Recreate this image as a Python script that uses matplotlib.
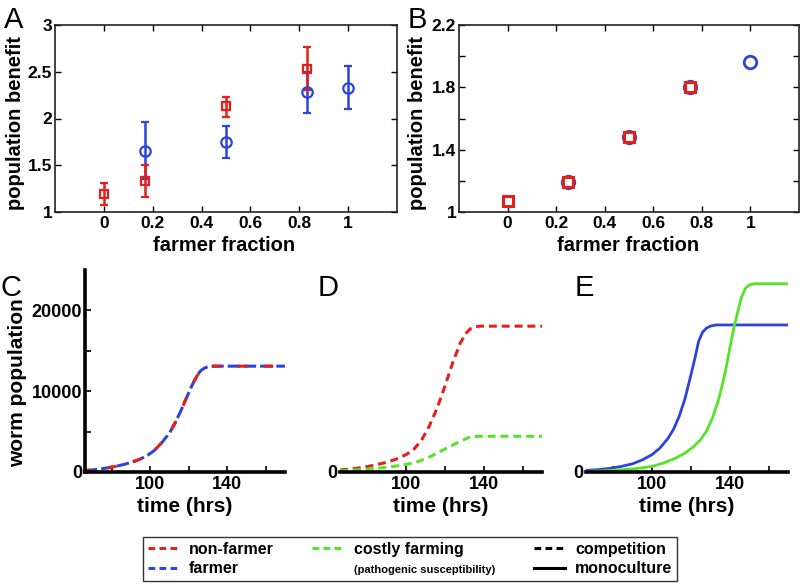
import matplotlib
matplotlib.use("Agg")
import matplotlib.pyplot as plt
from matplotlib.lines import Line2D
import numpy as np

plt.rcParams['font.family'] = ['Liberation Sans', 'DejaVu Sans']
plt.rcParams['font.weight'] = 'bold'

# ---------------- data ----------------
# Panel A (experiment)
a_red_x = [0.0, 1/6, 0.5, 5/6]
a_red_y = [1.19, 1.33, 2.13, 2.53]
a_red_lo = [1.07, 1.16, 2.02, 2.31]
a_red_hi = [1.31, 1.50, 2.23, 2.76]
a_blue_x = [1/6, 0.5, 5/6, 1.0]
a_blue_y = [1.655, 1.75, 2.28, 2.33]
a_blue_lo = [1.35, 1.58, 2.06, 2.10]
a_blue_hi = [1.96, 1.92, 2.50, 2.56]
a_xticks = [0, 0.2, 0.4, 0.6, 0.8, 1]
a_xticklabels = ['0', '0.2', '0.4', '0.6', '0.8', '1']
a_yticks = [1, 1.5, 2, 2.5, 3]
a_yticklabels = ['1', '1.5', '2', '2.5', '3']

# Panel B (model)
b_red_x = [0.0, 0.25, 0.5, 0.75]
b_red_y = [1.07, 1.19, 1.48, 1.80]
b_blue_x = [0.25, 0.5, 0.75, 1.0]
b_blue_y = [1.19, 1.48, 1.80, 1.963]
b_yticks = [1, 1.4, 1.8, 2.2]
b_yticklabels = ['1', '1.4', '1.8', '2.2']
b_yminor = [1.2, 1.6, 2.0]

# Panel C (competition, farmer + non-farmer overlap)
c_t = [66, 70, 74, 78, 82, 86, 90, 94, 98, 102, 106, 110, 113, 116, 119, 122,
       124, 126, 128, 130, 133, 170]
c_v = [180, 260, 370, 520, 700, 920, 1200, 1530, 1980, 2650, 3650, 4850, 6150,
       7650, 9300, 10900, 11800, 12500, 12850, 13030, 13100, 13100]

# Panel D (competition, non-farmer vs costly farming)
d_t = [66, 72, 78, 84, 90, 95, 100, 104, 108, 112, 116, 120, 124, 128, 131,
       133, 135, 138, 170]
d_red = [250, 380, 580, 860, 1200, 1600, 2150, 2800, 3950, 5700, 7900, 10600,
         13500, 16000, 17200, 17700, 17950, 18050, 18050]
d_green = [150, 220, 310, 430, 580, 750, 940, 1130, 1450, 1850, 2350, 2850,
           3320, 3800, 4150, 4330, 4410, 4420, 4420]

# Panel E (monoculture)
e_t_blue = [66, 72, 78, 84, 90, 95, 100, 104, 108, 111, 114, 117, 120, 122,
            124, 126, 128, 130, 133, 170]
e_blue = [200, 290, 440, 680, 1020, 1500, 2150, 2950, 4100, 5250, 6900, 9100,
          12000, 14000, 16200, 17300, 17800, 18050, 18200, 18200]
e_t_green = [66, 75, 85, 92, 100, 106, 112, 117, 121, 125, 128, 131, 134, 136,
             138, 140, 142, 144, 146, 148, 150, 153, 170]
e_green = [80, 150, 290, 420, 700, 1120, 1700, 2350, 3050, 4000, 5050, 6600,
           8750, 10600, 12700, 15300, 17700, 19700, 21600, 22700, 23150, 23300,
           23300]

t_major = [100, 140]
t_minor = [80, 120, 160]
pop_major = [0, 10000, 20000]
pop_minor = [5000, 15000]

RED = '#e3201b'
BLUE = '#2b44dc'
GREEN = '#55e32a'

# ---------------- figure ----------------
W, H = 802, 585
fig = plt.figure(figsize=(W / 100, H / 100), dpi=100)


def px_axes(l, t, r, b):
    return fig.add_axes([l / W, 1 - b / H, (r - l) / W, (b - t) / H])


TICK_FS = 12.5
LABEL_FS = 14.5

# ---- Panel A ----
axA = px_axes(55, 25, 397, 212)
axA.errorbar(a_blue_x, a_blue_y,
             yerr=[np.subtract(a_blue_y, a_blue_lo), np.subtract(a_blue_hi, a_blue_y)],
             fmt='o', color=BLUE, mfc='none', ms=7.5, mew=1.6, elinewidth=1.8,
             capsize=3, capthick=1.6)
axA.errorbar(a_red_x, a_red_y,
             yerr=[np.subtract(a_red_y, a_red_lo), np.subtract(a_red_hi, a_red_y)],
             fmt='s', color=RED, mfc='none', ms=6, mew=1.6, elinewidth=1.8,
             capsize=3, capthick=1.6)
axA.set_xlim(-0.2, 1.2)
axA.set_ylim(1, 3)
axA.set_xticks(a_xticks)
axA.set_xticklabels(a_xticklabels)
axA.set_yticks(a_yticks)
axA.set_yticklabels(a_yticklabels)

# ---- Panel B ----
axB = px_axes(459, 25, 799, 212)
axB.plot(b_blue_x, b_blue_y, 'o', color=BLUE, mfc='none', ms=9, mew=2)
axB.plot(b_red_x, b_red_y, 's', color=RED, mfc='none', ms=7, mew=2.2)
axB.set_xlim(-0.2, 1.2)
axB.set_ylim(1, 2.2)
axB.set_xticks(a_xticks)
axB.set_xticklabels(a_xticklabels)
axB.set_yticks(b_yticks)
axB.set_yticklabels(b_yticklabels)
axB.set_yticks(b_yminor, minor=True)

for ax in (axA, axB):
    for s in ax.spines.values():
        s.set_linewidth(1.2)
        s.set_color('#222222')
    ax.tick_params(which='both', direction='in', top=True, right=True,
                   length=4, width=1.0, pad=3, labelsize=TICK_FS)
    ax.tick_params(axis='y', pad=2)

fig.text(16 / W, 1 - 123 / H, 'population benefit', rotation=90, ha='center',
         va='center', fontsize=LABEL_FS, fontweight='bold')
fig.text(418 / W, 1 - 123 / H, 'population benefit', rotation=90, ha='center',
         va='center', fontsize=LABEL_FS, fontweight='bold')
fig.text(224 / W, 1 - 245 / H, 'farmer fraction', ha='center', va='center',
         fontsize=LABEL_FS, fontweight='bold')
fig.text(628 / W, 1 - 245 / H, 'farmer fraction', ha='center', va='center',
         fontsize=LABEL_FS, fontweight='bold')

# ---- Panels C, D, E ----
axC = px_axes(85, 270, 285, 472)
axD = px_axes(340, 270, 542, 472)
axE = px_axes(586, 270, 788, 472)

axC.plot(c_t, c_v, color=BLUE, lw=2.2, ls=(0, (4, 1.3)))
axC.plot(c_t, c_v, color=RED, lw=2.2, ls=(1.0, (3.0, 5.5)))

axD.plot(d_t, d_red, color=RED, lw=2.2, ls=(0, (2.6, 1.6)))
axD.plot(d_t, d_green, color=GREEN, lw=2.2, ls=(0, (2.6, 1.6)))

axE.plot(e_t_blue, e_blue, color=BLUE, lw=2.0)
axE.plot(e_t_green, e_green, color=GREEN, lw=2.0)

for ax in (axC, axD, axE):
    ax.set_xlim(66, 170)
    ax.set_ylim(0, 25000)
    ax.spines['top'].set_visible(False)
    ax.spines['right'].set_visible(False)
    ax.spines['bottom'].set_linewidth(2.6)
    ax.spines['left'].set_linewidth(2.6)
    ax.set_xticks(t_major)
    ax.set_xticklabels([str(v) for v in t_major])
    ax.set_xticks(t_minor, minor=True)
    ax.tick_params(which='both', direction='in', length=4, width=1.2,
                   labelsize=TICK_FS + 0.5, pad=3)
    ax.tick_params(axis='y', pad=2)

axC.set_yticks(pop_major)
axC.set_yticklabels([str(v) for v in pop_major])
axC.set_yticks(pop_minor, minor=True)

for ax in (axD, axE):
    ax.spines['left'].set_visible(False)
    ax.set_yticks([0])
    ax.set_yticklabels(['0'])
    ax.tick_params(axis='y', length=0, pad=2)

fig.text(18 / W, 1 - 383 / H, 'worm population', rotation=90, ha='center',
         va='center', fontsize=LABEL_FS + 0.5, fontweight='bold')
for cx in (185, 441, 687):
    fig.text(cx / W, 1 - 507 / H, 'time (hrs)', ha='center', va='center',
             fontsize=LABEL_FS + 0.5, fontweight='bold')

# ---- panel letters ----
for lab, x, y in (('A', 4, 28), ('B', 408, 28), ('C', 0, 296), ('D', 318, 296),
                  ('E', 575, 296)):
    fig.text(x / W, 1 - y / H, lab, ha='left', va='baseline', fontsize=21,
             fontweight='normal')

# ---- legend ----
handles = [
    Line2D([], [], color=RED, lw=2.2, ls=(0, (2.2, 1.4))),
    Line2D([], [], color=BLUE, lw=2.2, ls=(0, (2.2, 1.4))),
    Line2D([], [], color=GREEN, lw=2.2, ls=(0, (2.2, 1.4))),
    Line2D([], [], color='none', lw=0),
    Line2D([], [], color='black', lw=2.2, ls=(0, (2.2, 1.4))),
    Line2D([], [], color='black', lw=2.2),
]
labels = ['non-farmer', 'farmer', 'costly farming',
          '(pathogenic susceptibility)', 'competition', 'monoculture']
leg = fig.legend(handles, labels, ncol=3, loc='center',
                 bbox_to_anchor=(410 / W, 1 - 559 / H),
                 prop={'weight': 'bold', 'size': 11.5},
                 frameon=True, fancybox=False, edgecolor='black',
                 handlelength=2.0, handletextpad=0.6, columnspacing=2.4,
                 labelspacing=0.3, borderpad=0.3, borderaxespad=0)
leg.get_frame().set_linewidth(1.0)
leg.get_texts()[3].set_fontsize(8)

fig.savefig('out.png', dpi=100)
